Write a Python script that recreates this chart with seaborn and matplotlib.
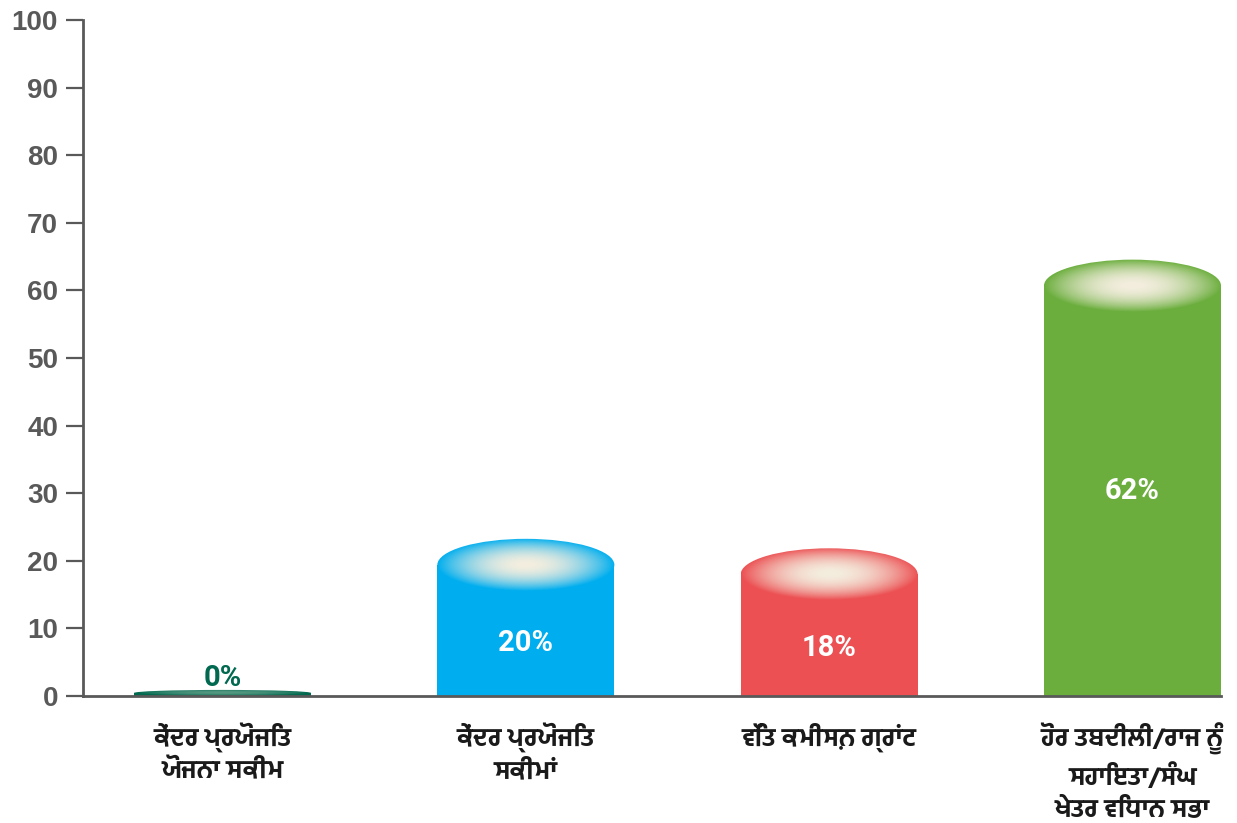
import matplotlib
matplotlib.use("Agg")
import matplotlib.pyplot as plt
from matplotlib.patches import Ellipse
from matplotlib.colors import to_rgb
import numpy as np
import pandas as pd
import seaborn as sns

# ---- data ----
categories = [
    "ਕੇਂਦਰ ਪ੍ਰਯੋਜਿਤ\nਯੋਜਨਾ ਸਕੀਮ",
    "ਕੇਂਦਰ ਪ੍ਰਯੋਜਿਤ\nਸਕੀਮਾਂ",
    "ਵਿੱਤ ਕਮੀਸ਼ਨ ਗ੍ਰਾਂਟ",
    "ਹੋਰ ਤਬਦੀਲੀ/ਰਾਜ ਨੂੰ\nਸਹਾਇਤਾ/ਸੰਘ\nਖੇਤਰ ਵਿਧਾਨ ਸਭਾ",
]
values = [0.45, 19.4, 18.0, 60.7]
value_labels = ["0%", "20%", "18%", "62%"]
y_ticks = [0, 10, 20, 30, 40, 50, 60, 70, 80, 90, 100]

colors = ["#00694F", "#00AEEF", "#EC5053", "#6BAE3D"]
label_colors = ["#00694F", "white", "white", "white"]
cream = "#F4EEDF"
axis_gray = "#595959"

sns.set_theme(style="white")
plt.rcParams["font.family"] = ["Liberation Sans", "DejaVu Sans"]

df = pd.DataFrame({"cat": categories, "val": values})

W, H = 1237, 823
fig = plt.figure(figsize=(W / 100, H / 100), dpi=100)
ax = fig.add_axes([83 / W, 127 / H, (1221 - 83) / W, (696 - 20) / H])

bar_w = 0.5836
sns.barplot(data=df, x="cat", y="val", hue="cat", palette=colors, legend=False,
            width=bar_w, saturation=1, ax=ax, linewidth=0, zorder=2)

cap_h = 7.7  # ellipse height in data units
n = 300
xx, yy = np.meshgrid(np.linspace(-1, 1, n), np.linspace(-1, 1, n))
r = np.clip(np.sqrt(xx ** 2 + yy ** 2), 0, 1)
for i, v in enumerate(values):
    h = min(cap_h, 2 * v)
    base = np.array(to_rgb(colors[i]))
    cr = np.array(to_rgb(cream))
    strength = 1.0 if v > 5 else 0.35
    t = 1 - strength * (1 - r ** 2.0)
    t = t[..., None]
    img = cr * (1 - t) + base * t
    e = Ellipse((i, v), bar_w, h, transform=ax.transData, facecolor="none",
                edgecolor="none")
    ax.add_patch(e)
    im = ax.imshow(img, extent=[i - bar_w / 2, i + bar_w / 2, v - h / 2, v + h / 2],
                   aspect="auto", zorder=3, interpolation="bilinear")
    im.set_clip_path(e)

    if v > 40:
        ly = v / 2
    elif v > 5:
        ly = (v - cap_h / 2) / 2
    else:
        ly = v + 2.2
    ax.text(i, ly, value_labels[i], ha="center", va="center", color=label_colors[i],
            fontsize=21, fontweight="bold", family="Roboto", zorder=4)

ax.set_xlim(-0.46, 3 + bar_w / 2)
ax.set_ylim(0, 100)
ax.set_yticks(y_ticks)
ax.set_yticklabels([str(t) for t in y_ticks], fontsize=20, fontweight="bold",
                   color=axis_gray)
ax.set_xlabel("")
ax.set_ylabel("")
ax.set_xticks(range(len(categories)))
ax.set_xticklabels(categories, fontsize=18, color="#1a1a1a",
                   family=["Hind Jalandhar", "DejaVu Sans"], fontweight="bold",
                   linespacing=1.38)
ax.tick_params(axis="x", length=0, pad=19)
ax.tick_params(axis="y", length=12, width=1.6, color=axis_gray, pad=6, left=True)
for s in ["top", "right"]:
    ax.spines[s].set_visible(False)
for s in ["left", "bottom"]:
    ax.spines[s].set_color(axis_gray)
    ax.spines[s].set_linewidth(2)
    ax.spines[s].set_zorder(5)
ax.grid(False)

fig.savefig("out.png", dpi=100)
